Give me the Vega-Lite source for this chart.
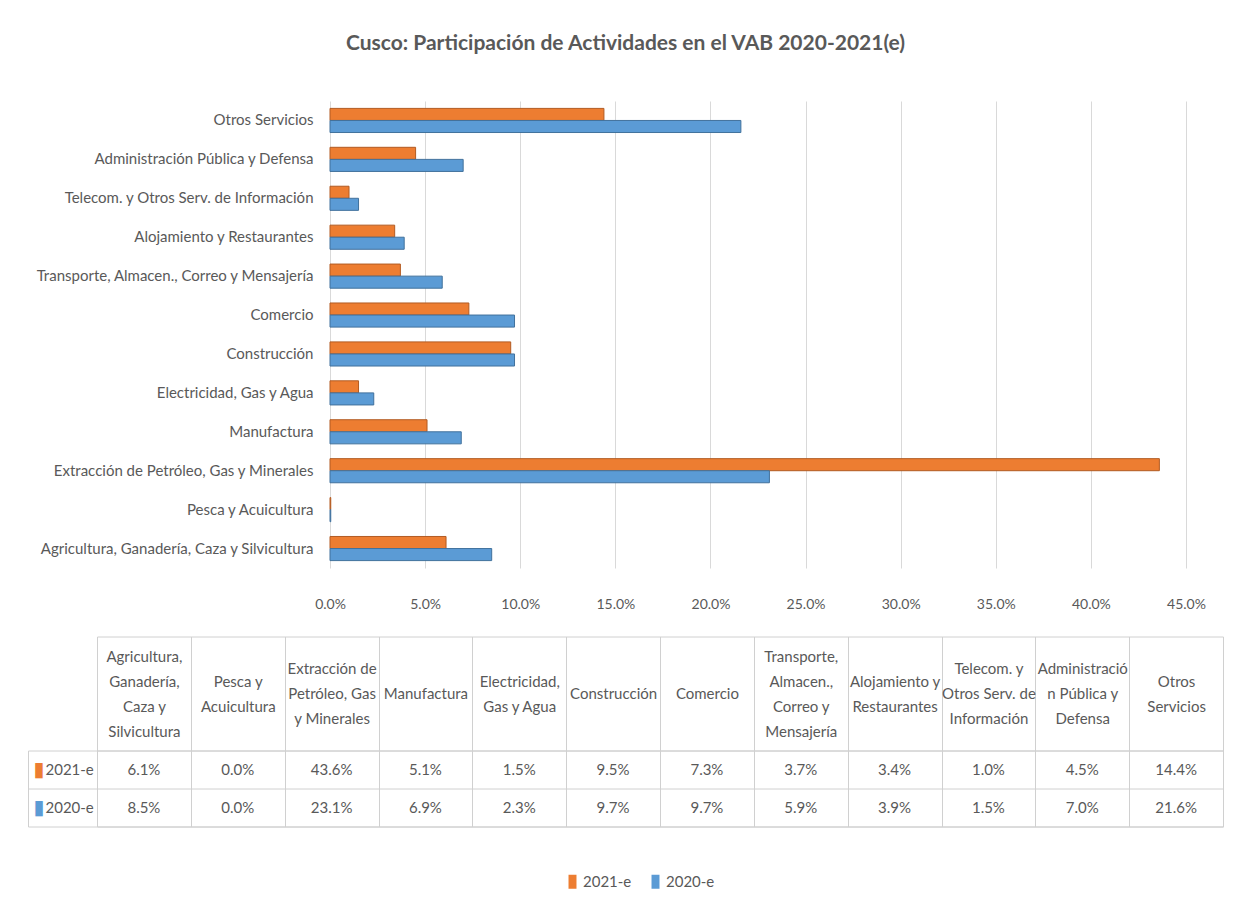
{
  "$schema": "https://vega.github.io/schema/vega-lite/v6.json",
  "background": "white",
  "padding": {"left": 27, "top": 32, "right": 18, "bottom": 10},
  "bounds": "flush",
  "spacing": 182.5,
  "title": {
    "text": "Cusco: Participación de Actividades en el VAB 2020-2021(e)",
    "font": "Lato",
    "fontSize": 21,
    "fontWeight": "bold",
    "color": "#595959",
    "anchor": "middle",
    "baseline": "middle",
    "offset": 36.5
  },
  "config": {
    "font": "Lato",
    "view": {"stroke": null},
    "axis": {"labelFont": "Lato", "labelColor": "#595959"},
    "legend": {"labelFont": "Lato", "labelColor": "#595959"}
  },
  "datasets": {
    "d": [
      {"cat": "Agricultura, Ganadería, Caza y Silvicultura", "header": "Agricultura,|Ganadería,|Caza y|Silvicultura", "serie": "2021-e", "v": 0.061},
      {"cat": "Agricultura, Ganadería, Caza y Silvicultura", "header": "Agricultura,|Ganadería,|Caza y|Silvicultura", "serie": "2020-e", "v": 0.085},
      {"cat": "Pesca y Acuicultura", "header": "Pesca y|Acuicultura", "serie": "2021-e", "v": 0.0004},
      {"cat": "Pesca y Acuicultura", "header": "Pesca y|Acuicultura", "serie": "2020-e", "v": 0.0004},
      {"cat": "Extracción de Petróleo, Gas y Minerales", "header": "Extracción de|Petróleo, Gas|y Minerales", "serie": "2021-e", "v": 0.436},
      {"cat": "Extracción de Petróleo, Gas y Minerales", "header": "Extracción de|Petróleo, Gas|y Minerales", "serie": "2020-e", "v": 0.231},
      {"cat": "Manufactura", "header": "Manufactura", "serie": "2021-e", "v": 0.051},
      {"cat": "Manufactura", "header": "Manufactura", "serie": "2020-e", "v": 0.069},
      {"cat": "Electricidad, Gas y Agua", "header": "Electricidad,|Gas y Agua", "serie": "2021-e", "v": 0.015},
      {"cat": "Electricidad, Gas y Agua", "header": "Electricidad,|Gas y Agua", "serie": "2020-e", "v": 0.023},
      {"cat": "Construcción", "header": "Construcción", "serie": "2021-e", "v": 0.095},
      {"cat": "Construcción", "header": "Construcción", "serie": "2020-e", "v": 0.097},
      {"cat": "Comercio", "header": "Comercio", "serie": "2021-e", "v": 0.073},
      {"cat": "Comercio", "header": "Comercio", "serie": "2020-e", "v": 0.097},
      {"cat": "Transporte, Almacen., Correo y Mensajería", "header": "Transporte,|Almacen.,|Correo y|Mensajería", "serie": "2021-e", "v": 0.037},
      {"cat": "Transporte, Almacen., Correo y Mensajería", "header": "Transporte,|Almacen.,|Correo y|Mensajería", "serie": "2020-e", "v": 0.059},
      {"cat": "Alojamiento y Restaurantes", "header": "Alojamiento y|Restaurantes", "serie": "2021-e", "v": 0.034},
      {"cat": "Alojamiento y Restaurantes", "header": "Alojamiento y|Restaurantes", "serie": "2020-e", "v": 0.039},
      {"cat": "Telecom. y Otros Serv. de Información", "header": "Telecom. y|Otros Serv. de|Información", "serie": "2021-e", "v": 0.010},
      {"cat": "Telecom. y Otros Serv. de Información", "header": "Telecom. y|Otros Serv. de|Información", "serie": "2020-e", "v": 0.015},
      {"cat": "Administración Pública y Defensa", "header": "Administració|n Pública y|Defensa", "serie": "2021-e", "v": 0.045},
      {"cat": "Administración Pública y Defensa", "header": "Administració|n Pública y|Defensa", "serie": "2020-e", "v": 0.070},
      {"cat": "Otros Servicios", "header": "Otros|Servicios", "serie": "2021-e", "v": 0.144},
      {"cat": "Otros Servicios", "header": "Otros|Servicios", "serie": "2020-e", "v": 0.216}
    ]
  },
  "vconcat": [
    {
      "data": {"name": "d"},
      "width": 1126,
      "height": 467,
      "view": {"stroke": null},
      "mark": {"type": "bar", "strokeWidth": 1},
      "encoding": {
        "y": {
          "field": "cat",
          "type": "nominal",
          "sort": ["Otros Servicios", "Administración Pública y Defensa", "Telecom. y Otros Serv. de Información", "Alojamiento y Restaurantes", "Transporte, Almacen., Correo y Mensajería", "Comercio", "Construcción", "Electricidad, Gas y Agua", "Manufactura", "Extracción de Petróleo, Gas y Minerales", "Pesca y Acuicultura", "Agricultura, Ganadería, Caza y Silvicultura"],
          "scale": {"paddingInner": 0.38, "paddingOuter": 0.19},
          "axis": {"title": null, "orient": "left", "offset": -233, "domain": false, "ticks": false, "labelPadding": 17, "labelFontSize": 15, "labelLimit": 500}
        },
        "yOffset": {"field": "serie", "type": "nominal", "sort": ["2021-e", "2020-e"]},
        "x": {
          "field": "v",
          "type": "quantitative",
          "scale": {"domain": [-0.12249, 0.46945], "nice": false, "zero": false},
          "axis": {"title": null, "values": [0, 0.05, 0.1, 0.15, 0.2, 0.25, 0.3, 0.35, 0.4, 0.45], "format": ".1%", "grid": true, "gridColor": "#d9d9d9", "domain": false, "ticks": false, "tickSize": 0, "labelPadding": 29, "labelFontSize": 14, "labelFlush": false}
        },
        "color": {
          "field": "serie",
          "type": "nominal",
          "scale": {"domain": ["2021-e", "2020-e"], "range": ["#ED7D31", "#5B9BD5"]},
          "legend": {"title": null, "orient": "none", "legendX": 468, "legendY": 773, "direction": "horizontal", "symbolType": "M-0.57,-1H0.57V1H-0.57Z", "symbolSize": 196, "symbolStrokeWidth": 0, "labelFontSize": 15, "columnPadding": 16, "labelOffset": 3}
        },
        "stroke": {
          "field": "serie",
          "type": "nominal",
          "scale": {"domain": ["2021-e", "2020-e"], "range": ["#B25B22", "#41719C"]},
          "legend": null
        }
      }
    },
    {
      "data": {"name": "d"},
      "width": 1126,
      "height": 76,
      "view": {"stroke": "#d0d0d0"},
      "resolve": {"axis": {"x": "independent", "y": "independent"}},
      "layer": [
        {
          "mark": {"type": "text", "fontSize": 15, "color": "#595959", "font": "Lato"},
          "encoding": {
            "x": {
              "field": "header",
              "type": "nominal",
              "sort": ["Agricultura,|Ganadería,|Caza y|Silvicultura", "Pesca y|Acuicultura", "Extracción de|Petróleo, Gas|y Minerales", "Manufactura", "Electricidad,|Gas y Agua", "Construcción", "Comercio", "Transporte,|Almacen.,|Correo y|Mensajería", "Alojamiento y|Restaurantes", "Telecom. y|Otros Serv. de|Información", "Administració|n Pública y|Defensa", "Otros|Servicios"],
              "axis": {"orient": "top", "title": null, "domain": false, "ticks": true, "tickBand": "extent", "tickSize": 114, "tickColor": "#d0d0d0", "grid": true, "gridColor": "#d0d0d0", "labelAngle": 0, "labelExpr": "length(split(datum.label,'|'))==4 ? [split(datum.label,'|')[0],'\u200b',split(datum.label,'|')[1],'\u200b',split(datum.label,'|')[2],'\u200b',split(datum.label,'|')[3]] : length(split(datum.label,'|'))==3 ? ['\u200b',split(datum.label,'|')[0],'\u200b',split(datum.label,'|')[1],'\u200b',split(datum.label,'|')[2]] : length(split(datum.label,'|'))==2 ? ['\u200b','\u200b',split(datum.label,'|')[0],'\u200b',split(datum.label,'|')[1]] : ['\u200b','\u200b','\u200b',datum.label]", "labelBaseline": "middle", "labelPadding": -19.5, "labelFontSize": 15, "labelLineHeight": 12.5, "labelOverlap": false, "labelLimit": 300}
            },
            "y": {
              "field": "serie",
              "type": "nominal",
              "sort": ["2021-e", "2020-e"],
              "axis": {"orient": "left", "title": null, "domain": false, "ticks": true, "tickBand": "extent", "tickSize": 69, "tickColor": "#d0d0d0", "grid": true, "gridColor": "#d0d0d0", "labelAlign": "left", "labelPadding": -17, "labelFontSize": 15}
            },
            "text": {"field": "v", "type": "quantitative", "format": ".1%"}
          }
        },
        {
          "mark": {"type": "rect", "opacity": 0},
          "encoding": {
            "x": {
              "field": "header",
              "type": "nominal",
              "sort": ["Agricultura,|Ganadería,|Caza y|Silvicultura", "Pesca y|Acuicultura", "Extracción de|Petróleo, Gas|y Minerales", "Manufactura", "Electricidad,|Gas y Agua", "Construcción", "Comercio", "Transporte,|Almacen.,|Correo y|Mensajería", "Alojamiento y|Restaurantes", "Telecom. y|Otros Serv. de|Información", "Administració|n Pública y|Defensa", "Otros|Servicios"],
              "axis": {"orient": "top", "offset": 114, "title": null, "domain": true, "domainColor": "#d0d0d0", "ticks": false, "labels": false, "grid": false}
            },
            "y": {
              "field": "serie",
              "type": "nominal",
              "sort": ["2021-e", "2020-e"],
              "axis": {"orient": "left", "offset": 69, "title": null, "domain": true, "domainColor": "#d0d0d0", "ticks": false, "grid": false, "labelExpr": "'▮'", "labelFont": "DejaVu Sans", "labelAlign": "left", "labelPadding": -5, "labelFontSize": 20, "labelColor": {"condition": {"test": "datum.value === '2021-e'", "value": "#ED7D31"}, "value": "#5B9BD5"}}
            }
          }
        }
      ]
    }
  ]
}
